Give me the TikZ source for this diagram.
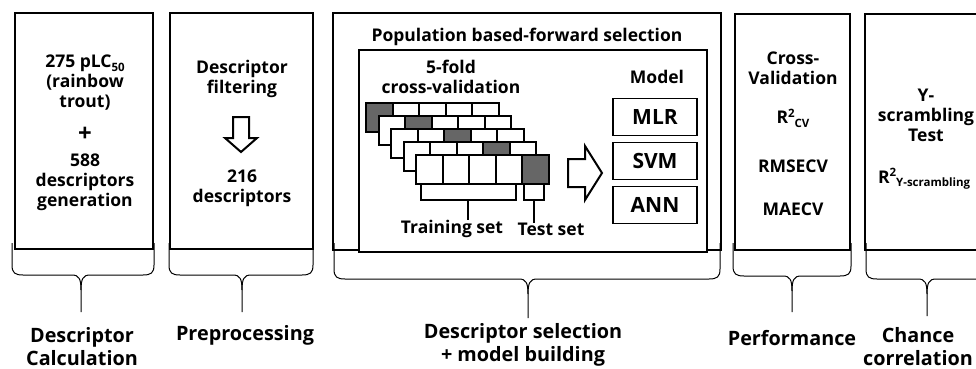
\documentclass[tikz,border=0pt]{standalone}
\usepackage{fontspec}
\setmainfont{Open Sans}
\definecolor{darkcell}{HTML}{666666}
\newcommand\mysup[1]{\raisebox{0.38em}{\fontsize{11.5}{13}\selectfont #1}}
\newcommand\mysub[1]{\raisebox{-0.2em}{\fontsize{11.5}{13}\selectfont #1}}
\newcommand\mybrace[5]{%
  \draw[bracestyle] (#1,243) -- (#1,#4-10) .. controls (#1,#4-2) and (#1+3,#4) .. (#1+11,#4) -- (#3-9,#4) .. controls (#3-2,#4) and (#3,#4+4) .. (#3,#4+15) -- (#3,#5);
  \draw[bracestyle] (#2,243) -- (#2,#4-10) .. controls (#2,#4-2) and (#2-3,#4) .. (#2-11,#4) -- (#3+9,#4) .. controls (#3+2,#4) and (#3,#4+4) .. (#3,#4+15);
}
\begin{document}
\begin{tikzpicture}[x=1pt,y=-1pt,
  every node/.style={font=\bfseries\fontsize{17.5}{20}\selectfont, inner sep=0pt, outer sep=0pt, align=center},
  bigbox/.style={draw, line width=2.4pt, fill=white},
  innerbox/.style={draw, line width=2pt, fill=white},
  modelbox/.style={draw, line width=1.2pt, minimum width=84, minimum height=37, font=\bfseries\fontsize{21}{24}\selectfont},
  lbl/.style={font=\bfseries\fontsize{19.8}{23}\selectfont},
  cell/.style={draw, line width=2pt, fill=white},
  dcell/.style={draw, line width=2pt, fill=darkcell},
  thinline/.style={line width=1.1pt},
  bracestyle/.style={line width=1pt, line join=round},
  fatarrow/.style={draw, line width=2pt, fill=white, line join=miter}]
\clip (0,0) rectangle (976,369);
\fill[white] (0,0) rectangle (976,369);

% --- main boxes
\node[bigbox, minimum width=138, minimum height=236] (b1) at (84,131) {};
\node[bigbox, minimum width=143, minimum height=236] (b2) at (241.5,131) {};
\node[bigbox, minimum width=388, minimum height=237] (b3) at (527,131.5) {};
\node[innerbox, minimum width=348, minimum height=202] (b3in) at (533,151) {};
\node[bigbox, minimum width=115, minimum height=236] (b4) at (792.5,132) {};
\node[bigbox, minimum width=135, minimum height=236] (b5) at (932.5,132) {};

% --- box 1
\node (t1a) at (85,83) {275 pLC\mysub{50}\\(rainbow\\trout)};
\node (t1b) at (85,134) {\fontsize{24}{24}\selectfont +};
\node (t1c) at (85,182) {588\\descriptors\\generation};

% --- box 2
\node (t2a) at (242,79) {Descriptor\\filtering};
\draw[fatarrow] (233,117) -- (249,117) -- (249,138) -- (257,138) -- (241,152) -- (225,138) -- (233,138) -- cycle;
\node (t2b) at (242,188) {216\\descriptors};

% --- box 3
\node (t3a) at (527,37) {Population based-forward selection};
\node (t3b) at (451,77) {5-fold\\cross-validation};
\node (t3c) at (657,77) {Model};
\foreach \k in {0,...,4}{
  \foreach \c in {0,...,4}{
    \ifnum\c=\k
      \draw[dcell] (366+12.5*\k+26.5*\c,103+13*\k) rectangle ++(26.5,28.5);
    \else
      \draw[cell] (366+12.5*\k+26.5*\c,103+13*\k) rectangle ++(26.5,28.5);
    \fi
  }
}
\coordinate (trL) at (421,183); \coordinate (trR) at (516,183);
\coordinate (teL) at (524,183); \coordinate (teR) at (544,183);
\node (tr) at (452,229) {Training set};
\node (te) at (551,229) {Test set};
\draw[thinline] (trL) -- (421,200) -- (516,200) -- (trR);
\draw[thinline] (468,200) -- (tr.north -| 468,0) ;
\draw[thinline] (teL) -- (524,200) -- (544,200) -- (teR);
\draw[thinline] (534,200) -- (te.north -| 534,0);
\draw[fatarrow] (568,159) -- (585,159) -- (585,146) -- (602,173) -- (585,200) -- (585,187) -- (568,187) -- cycle;
\node[modelbox] (mlr) at (655,117) {MLR};
\node[modelbox] (svm) at (655,161) {SVM};
\node[modelbox] (ann) at (655,205) {ANN};

% --- box 4
\node (t4a) at (793,68.5) {Cross-\\Validation};
\node (t4b) at (793,118) {R\mysup{2}\mysub{CV}};
\node (t4c) at (793,166) {RMSECV};
\node (t4d) at (793,209) {MAECV};

% --- box 5
\node (t5a) at (926,115) {Y-\\scrambling\\Test};
\node[anchor=west] (t5b) at (878,179) {R\mysup{2}\mysub{Y-scrambling}};

% --- braces
\mybrace{12}{154}{81}{275}{312}
\mybrace{169}{313}{242}{275}{312}
\mybrace{334}{720}{528}{279}{318}
\mybrace{733}{851}{792}{276}{312}
\mybrace{866}{990}{927}{279}{316}

% --- labels
\node[lbl] (l1) at (82,346.5) {Descriptor\\Calculation};
\node[lbl] (l2) at (245,335) {Preprocessing};
\node[lbl] (l3) at (523,345) {Descriptor selection\\+ model building};
\node[lbl] (l4) at (792,338) {Performance};
\node[lbl] (l5) at (918,346.5) {Chance\\correlation};
\end{tikzpicture}
\end{document}
